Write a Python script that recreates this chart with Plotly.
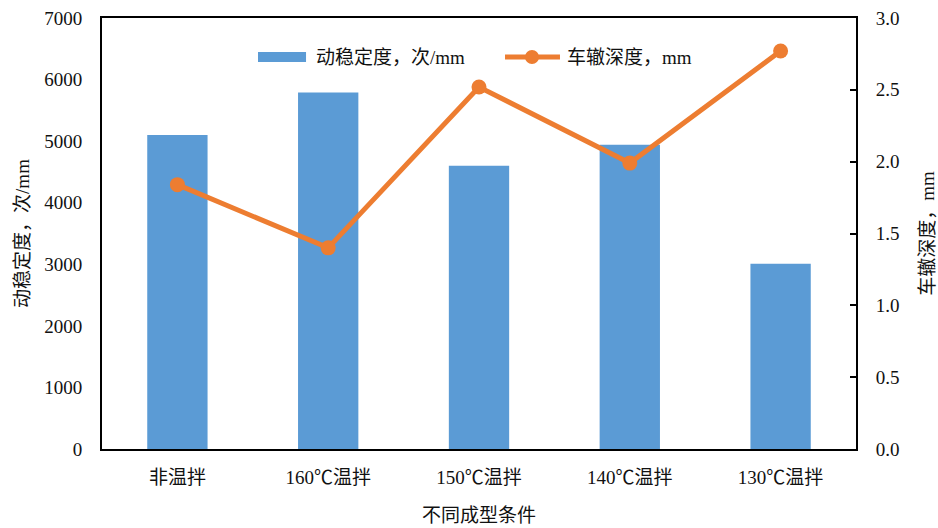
import plotly.graph_objects as go

# Data
categories = ["非温拌", "160℃温拌", "150℃温拌", "140℃温拌", "130℃温拌"]
stability = [5100, 5790, 4600, 4940, 3010]        # 动稳定度，次/mm
rut_depth = [1.84, 1.40, 2.52, 1.99, 2.77]         # 车辙深度，mm
left_ticks = [0, 1000, 2000, 3000, 4000, 5000, 6000, 7000]
right_ticks = [0.0, 0.5, 1.0, 1.5, 2.0, 2.5, 3.0]
series_names = ["动稳定度，次/mm", "车辙深度，mm"]

FONT = "Liberation Serif, Noto Sans CJK SC"
TXT = "#111111"
BLUE = "#5B9BD5"
ORANGE = "#ED7D31"
font19 = dict(family=FONT, size=19, color=TXT)
tickfont = dict(family="Liberation Serif, Noto Sans CJK SC", size=19, color=TXT)

fig = go.Figure()
fig.add_trace(go.Bar(
    x=categories, y=stability, name=series_names[0],
    marker=dict(color=BLUE, line=dict(width=0)),
    yaxis="y", showlegend=False,
))
fig.add_trace(go.Scatter(
    x=categories, y=rut_depth, name=series_names[1],
    mode="lines+markers",
    line=dict(color=ORANGE, width=5),
    marker=dict(color=ORANGE, size=15),
    yaxis="y2", showlegend=False,
))

# Legend drawn in paper coordinates: wide bar swatch and line-with-dot swatch
legend_y = 0.9095
fig.add_shape(type="rect", xref="paper", yref="paper",
              x0=0.2069, x1=0.2706, y0=0.898, y1=0.921,
              fillcolor=BLUE, line=dict(width=0))
fig.add_annotation(text=series_names[0], xref="paper", yref="paper",
                   x=0.2812, y=legend_y, xanchor="left", yanchor="middle",
                   showarrow=False, font=font19)
fig.add_shape(type="line", xref="paper", yref="paper",
              x0=0.5345, x1=0.6074, y0=legend_y, y1=legend_y,
              line=dict(color=ORANGE, width=5))
fig.add_shape(type="circle", xref="paper", yref="paper",
              x0=0.5703 - 0.0093, x1=0.5703 + 0.0093,
              y0=legend_y - 0.0162, y1=legend_y + 0.0162,
              fillcolor=ORANGE, line=dict(width=0))
fig.add_annotation(text=series_names[1], xref="paper", yref="paper",
                   x=0.614, y=legend_y, xanchor="left", yanchor="middle",
                   showarrow=False, font=font19)

fig.update_layout(
    width=938, height=528,
    margin=dict(l=102, r=82, t=18, b=79),
    paper_bgcolor="white", plot_bgcolor="white",
    font=font19,
    bargap=0.6,
    showlegend=False,
    xaxis=dict(
        title=dict(text="不同成型条件", standoff=22, font=font19),
        showline=True, linecolor="black", linewidth=2, mirror=True,
        ticks="", showgrid=False, zeroline=False, automargin=False,
        tickfont=tickfont, ticklabelstandoff=10,
    ),
    yaxis=dict(
        title=dict(text="动稳定度，次/mm", standoff=10, font=font19),
        range=[0, 7000], tickvals=left_ticks,
        showline=True, linecolor="black", linewidth=2,
        ticks="", showgrid=False, zeroline=False, automargin=False,
        tickfont=tickfont, ticklabelstandoff=14,
    ),
    yaxis2=dict(
        title=dict(text="车辙深度，mm", standoff=28, font=font19),
        overlaying="y", side="right",
        range=[0, 3.0], tickvals=right_ticks, tickformat=".1f",
        showline=True, linecolor="black", linewidth=2,
        ticks="inside", ticklen=6, tickwidth=2, tickcolor="black",
        showgrid=False, zeroline=False, automargin=False,
        tickfont=tickfont, ticklabelstandoff=14,
    ),
)

fig.write_html("out.html")
